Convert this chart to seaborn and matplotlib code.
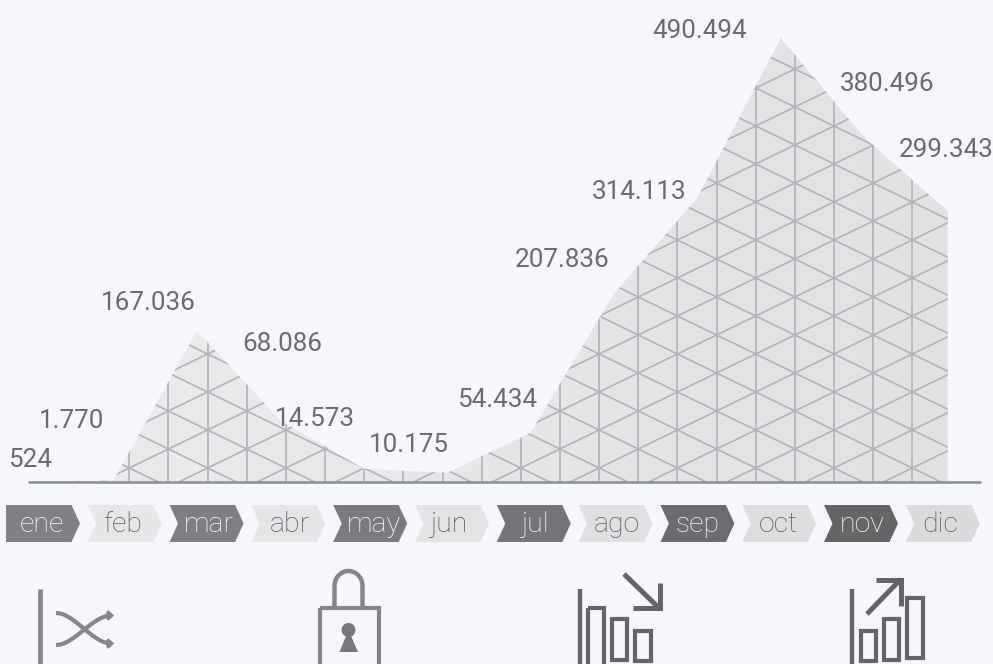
import numpy as np
import pandas as pd
import matplotlib
matplotlib.use("Agg")
import matplotlib.pyplot as plt
from matplotlib.collections import LineCollection
from matplotlib.patches import Polygon, Rectangle, Circle
from matplotlib.path import Path
from matplotlib.colors import LinearSegmentedColormap
import seaborn as sns

months = ["ene", "feb", "mar", "abr", "may", "jun", "jul", "ago", "sep", "oct", "nov", "dic"]
values = [524, 1770, 167036, 68086, 14573, 10175, 54434, 207836, 314113, 490494, 380496, 299343]
value_labels = ["524", "1.770", "167.036", "68.086", "14.573", "10.175",
                "54.434", "207.836", "314.113", "490.494", "380.496", "299.343"]
# label offsets from each point, in pixels (right edge, vertical centre)
label_dx = [22, -9, -1, 42, -9, 2, 6, -5, -11, -34, 70, 46]
label_dy = [22, 59, 28, 76, 50, 28, 33, 34, 6, 7, 54, 61]
# horizontal centres of the month names, in pixels
month_cx = [42, 123, 209, 290, 374, 449, 535, 617, 698, 778, 862, 940]

BG = "#f5f7fa"
W, H = 993, 664
BASE_PX, TOP_PX = 482, 38
X0_PX, STEP_PX = 30, 83.43

sns.set_theme(style="white", rc={"axes.facecolor": BG, "figure.facecolor": BG})
plt.rcParams["font.family"] = ["Roboto", "DejaVu Sans"]

fig = plt.figure(figsize=(W / 100, H / 100), dpi=100)
ax = fig.add_axes([0, 0, 1, 1])
scale = (BASE_PX - TOP_PX) / max(values)

df = pd.DataFrame({"month": np.arange(len(months)), "value": values})
sns.lineplot(data=df, x="month", y="value", ax=ax, linewidth=0, color="#e3e4e6", legend=False)
ax.set_axis_off()

# Area under the monthly series, filled with a faint horizontal gradient
xs = df["month"].to_numpy(float)
ys = df["value"].to_numpy(float)
outline = np.column_stack([np.r_[xs[0], xs, xs[-1]], np.r_[0, ys, 0]])
area_path = Path(np.vstack([outline, outline[0]]), closed=True)
fade = LinearSegmentedColormap.from_list("fade", ["#ebecee", "#e1e2e4"])
img = ax.imshow(np.linspace(0, 1, 256).reshape(1, -1), cmap=fade, aspect="auto",
                extent=(xs[0], xs[-1], 0, max(values)), zorder=1)
img.set_clip_path(area_path, ax.transData)
ax.set_xlim(-X0_PX / STEP_PX, (W - X0_PX) / STEP_PX)
ax.set_ylim(-(H - BASE_PX) / scale, BASE_PX / scale)

for x, y, text, dx, dy in zip(xs, ys, value_labels, label_dx, label_dy):
    ax.annotate(text, xy=(x, y), xycoords="data", xytext=(dx, dy), textcoords="offset pixels",
                ha="right", va="center", fontsize=18.7, color="#6a6b6e", zorder=5)

# Overlay in pixel units for the lattice, month chevrons and icons
ov = fig.add_axes([0, 0, 1, 1], facecolor="none")
ov.set_xlim(0, W)
ov.set_ylim(H, 0)
ov.set_axis_off()

# Triangular lattice, clipped to the area
LX0, LY0, DX, DY = 129.3, 468.0, 39.15, 38.0
slope = (DY / 2) / DX
segs = []
for k in range(21):
    x = LX0 + k * DX
    segs.append([(x, 0), (x, BASE_PX)])
for n in range(-30, 50):
    c = LY0 + n * DY
    segs.append([(0, c + slope * LX0), (W, c + slope * (LX0 - W))])
    segs.append([(0, c - slope * LX0), (W, c - slope * (LX0 - W))])
lattice = LineCollection(segs, colors="#b1b2b5", linewidths=1.2, zorder=2)
ov.add_collection(lattice)
lattice.set_clip_path(area_path, ax.transData)

ov.plot([28, 981], [BASE_PX, BASE_PX], color="#8f9294", lw=1.9, solid_capstyle="butt", zorder=3)

# Month chevrons
dark_fills = ["#808184", "#7e7f82", "#7a7b7e", "#747578", "#6b6c6f", "#646567"]
light_fills = ["#e6e7e8", "#e4e5e7", "#e2e3e5", "#dfe0e2", "#dddee0", "#dadbdd"]
top, bot, tip = 505, 542, 8.5
mid = (top + bot) / 2
for i, name in enumerate(months):
    left = 6 + i * 81.8
    right = left + 74
    pts = [(left, top), (right - tip, top), (right, mid), (right - tip, bot), (left, bot)]
    if i > 0:
        pts.append((left + tip, mid))
    dark = i % 2 == 0
    fill = dark_fills[i // 2] if dark else light_fills[i // 2]
    ov.add_patch(Polygon(pts, closed=True, fc=fill, ec="none", zorder=2))
    ov.text(month_cx[i], mid + 1.5, name, ha="center", va="center", fontsize=20.5, fontweight="light",
            color="#ffffff" if dark else "#55565a", zorder=3)

# Icons along the bottom edge
GREY, DARK = "#858689", "#646567"


def stroke(px, py, color, lw=3.2, cap="butt", join="miter"):
    ov.plot(px, py, color=color, lw=lw, solid_capstyle=cap, solid_joinstyle=join, zorder=3)


def box(x0, x1, y0, y1, color):
    ov.add_patch(Rectangle((x0, y0), x1 - x0, y1 - y0, fc="none", ec=color, lw=3.0, zorder=3,
                           joinstyle="miter"))


# shuffle
stroke([40, 40], [589, 668], GREY, lw=3.4)
t = np.linspace(0, 1, 50)
for y_a, y_b in [(613, 643.5), (645, 615.5)]:
    curve_x = 56 + (111 - 56) * t
    curve_y = y_a + (y_b - y_a) * (3 * t ** 2 - 2 * t ** 3)
    stroke(curve_x, curve_y, GREY, lw=3.0)
    stroke([107, 111.5, 107], [y_b - 4, y_b, y_b + 4], GREY, lw=2.6)

# padlock
box(319.5, 378.5, 607.5, 680, GREY)
theta = np.linspace(np.pi, 0, 40)
stroke(np.r_[334.5, 348.5 + 14 * np.cos(theta), 362.5], np.r_[606, 586 + 15 * -np.sin(theta), 606], GREY)
ov.add_patch(Circle((348.5, 630), 7, fc="#77787b", ec="none", zorder=3))
ov.add_patch(Polygon([(348.5, 630), (339.5, 652), (358, 652)], fc="#77787b", ec="none", zorder=3))

# falling bars
stroke([580, 580], [589, 668], DARK)
box(588, 603.5, 607.5, 680, DARK)
box(611.5, 626.5, 618.5, 659.5, DARK)
box(635, 650.5, 631, 660.5, DARK)
stroke([624, 659], [574, 608], DARK, lw=3.6)
stroke([633, 659.5, 659.5], [608, 608, 583], DARK, lw=3.6)

# rising bars
stroke([852, 852], [589, 668], DARK)
box(860.5, 876, 631, 660.5, DARK)
box(883.5, 898.5, 618.5, 659.5, DARK)
box(907, 922.5, 598, 657.5, DARK)
stroke([867, 901], [614, 579], DARK, lw=3.6)
stroke([876, 900.5, 900.5], [579.5, 579.5, 606], DARK, lw=3.6)

fig.savefig("out.png", dpi=100, facecolor=BG)
